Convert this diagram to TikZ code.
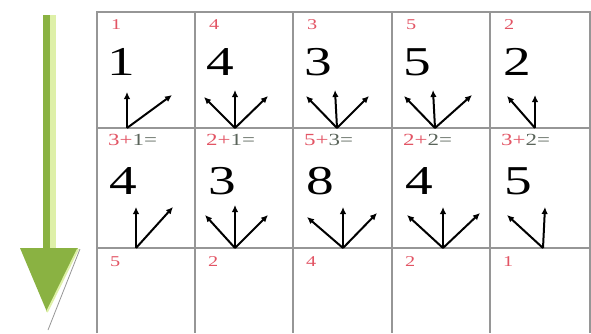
\documentclass[tikz,border=0pt]{standalone}
\usepackage{graphicx}
\usepackage{fontspec}
\setmainfont{Liberation Serif}
\usetikzlibrary{arrows.meta,positioning}
\definecolor{shaftgreen}{RGB}{138, 178, 66}
\definecolor{shaftpale}{RGB}{222, 240, 168}
\definecolor{cellred}{RGB}{226, 84, 100}
\definecolor{gridgray}{RGB}{150, 150, 150}
\definecolor{sumgray}{RGB}{90, 100, 90}
\newcommand{\wide}[1]{\scalebox{1.35}[1]{#1}}

\begin{document}
\begin{tikzpicture}[
    x=1pt, y=-1pt,
    digit/.style={font=\fontsize{41}{41}\selectfont, inner sep=0pt},
    tag/.style={anchor=west, inner sep=0pt, text=cellred,
                font=\fontsize{15}{15}\selectfont},
    sum/.style={anchor=west, inner sep=0pt,
                font=\fontsize{17}{17}\selectfont},
    arrow/.style={-{Latex[length=7pt,width=6.5pt]}, line width=2pt, black}
]
\useasboundingbox (0,0) rectangle (591,333);

% direction arrow
\fill[shaftgreen] (43,15) rectangle (50,250);
\fill[shaftpale] (50,15) rectangle (56,250);
\fill[shaftgreen] (20,248) -- (78,248) -- (47,312) -- cycle;
\draw[shaftpale, line width=2pt] (78,249) -- (47,312);
\draw[gridgray, line width=0.8pt] (80,249) -- (48,330);

% grid
\draw[gridgray, line width=1.5pt] (97,333) -- (97,12) -- (590,12) -- (590,333);
\draw[gridgray, line width=1.5pt] (97,128) -- (590,128);
\draw[gridgray, line width=1.5pt] (97,248) -- (590,248);
\foreach \gx in {195,293,392,490}
    \draw[gridgray, line width=1.5pt] (\gx,12) -- (\gx,333);

% first row
\node[tag] (t1) at (111,25) {\wide{1}};
\node[tag] (t2) at (209,25) {\wide{4}};
\node[tag] (t3) at (307,25) {\wide{3}};
\node[tag] (t4) at (406,25) {\wide{5}};
\node[tag] (t5) at (504,25) {\wide{2}};
\node[digit] (d1) at (121,62) {\wide{1}};
\node[digit] (d2) at (220,62) {\wide{4}};
\node[digit] (d3) at (318,62) {\wide{3}};
\node[digit] (d4) at (417,62) {\wide{5}};
\node[digit] (d5) at (517,62) {\wide{2}};

% second row
\node[sum] (s1) at (108,140) {\wide{\textcolor{cellred}{3+}\textcolor{sumgray}{1=}}};
\node[sum] (s2) at (206,140) {\wide{\textcolor{cellred}{2+}\textcolor{sumgray}{1=}}};
\node[sum] (s3) at (304,140) {\wide{\textcolor{cellred}{5+}\textcolor{sumgray}{3=}}};
\node[sum] (s4) at (403,140) {\wide{\textcolor{cellred}{2+}\textcolor{sumgray}{2=}}};
\node[sum] (s5) at (501,140) {\wide{\textcolor{cellred}{3+}\textcolor{sumgray}{2=}}};
\node[digit] (e1) at (123,181) {\wide{4}};
\node[digit] (e2) at (222,181) {\wide{3}};
\node[digit] (e3) at (320,181) {\wide{8}};
\node[digit] (e4) at (419,181) {\wide{4}};
\node[digit] (e5) at (518,181) {\wide{5}};

% third row
\node[tag] (r1) at (110,262) {\wide{5}};
\node[tag] (r2) at (208,262) {\wide{2}};
\node[tag] (r3) at (306,262) {\wide{4}};
\node[tag] (r4) at (405,262) {\wide{2}};
\node[tag] (r5) at (503,262) {\wide{1}};

% arrow feet
\coordinate (a1) at (127,128);
\coordinate (a2) at (235,128);
\coordinate (a3) at (337,128);
\coordinate (a4) at (435,128);
\coordinate (a5) at (535,128);
\coordinate (b1) at (136,248);
\coordinate (b2) at (235,248);
\coordinate (b3) at (343,248);
\coordinate (b4) at (443,248);
\coordinate (b5) at (543,248);

\draw[arrow] (a1) -- ++(0,-36);
\draw[arrow] (a1) -- ++(45,-33);
\draw[arrow] (a2) -- ++(-31,-31);
\draw[arrow] (a2) -- ++(0,-38);
\draw[arrow] (a2) -- ++(33,-32);
\draw[arrow] (a3) -- ++(-31,-32);
\draw[arrow] (a3) -- ++(-2,-38);
\draw[arrow] (a3) -- ++(32,-32);
\draw[arrow] (a4) -- ++(-31,-32);
\draw[arrow] (a4) -- ++(-2,-38);
\draw[arrow] (a4) -- ++(37,-33);
\draw[arrow] (a5) -- ++(-28,-32);
\draw[arrow] (a5) -- ++(0,-33);

\draw[arrow] (b1) -- ++(0,-41);
\draw[arrow] (b1) -- ++(37,-41);
\draw[arrow] (b2) -- ++(-30,-33);
\draw[arrow] (b2) -- ++(0,-43);
\draw[arrow] (b2) -- ++(33,-33);
\draw[arrow] (b3) -- ++(-36,-31);
\draw[arrow] (b3) -- ++(0,-41);
\draw[arrow] (b3) -- ++(34,-35);
\draw[arrow] (b4) -- ++(-36,-33);
\draw[arrow] (b4) -- ++(0,-41);
\draw[arrow] (b4) -- ++(37,-35);
\draw[arrow] (b5) -- ++(-36,-33);
\draw[arrow] (b5) -- ++(2,-41);
\end{tikzpicture}
\end{document}
